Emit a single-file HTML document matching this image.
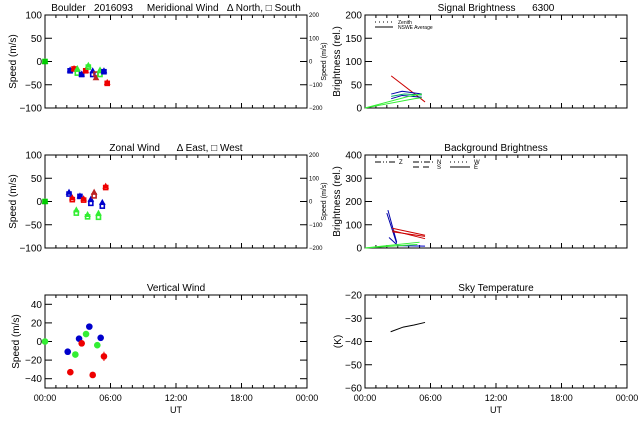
<!DOCTYPE html>
<html><head><meta charset="utf-8"><style>
body{margin:0;background:#fff;}
svg text{font-family:"Liberation Sans",sans-serif;fill:#000;white-space:pre;}
</style></head><body>
<svg id="c" width="640" height="420" xmlns="http://www.w3.org/2000/svg" xml:space="preserve"></svg>
<script>
// ---- data ----
const merTimes=[0,2.3,2.66,2.96,3.36,3.73,3.97,4.37,4.67,5.04,5.4,5.7];
const merN=[0,-18,-15,-15,-27,-19,-8,-20,-35,-18,-20,-45];
const merS=[0,-20,-16,-25,-28,-20,-12,-28,-27,-28,-22,-47];
const merColors=['#0c0','#00c','#e00','#3e3','#00c','#e00','#3e3','#00c','#b22','#3e3','#00c','#e00'];
const zonTimes=[0,2.2,2.5,2.87,3.2,3.54,3.9,4.2,4.5,4.9,5.25,5.56];
const zonE=[0,20,8,-18,12,6,-28,5,20,-25,-2,33];
const zonW=[0,16,4,-25,11,3,-33,-4,12,-34,-10,30];
const zonColors=merColors;
const vzTimes=[0,2.08,2.32,2.78,3.12,3.36,3.76,4.06,4.37,4.79,5.1,5.4];
const vzVals=[0,-11,-33,-14,3,-2,8,16,-36,-4,4,-16];
const vzErr=[0,3,1,2,1,1,1,1,3,1,1,5];
const vzColors=['#3e3','#00c','#e00','#3e3','#00c','#e00','#3e3','#00c','#e00','#3e3','#00c','#e00'];
const sigT=[[2.4,5.5],[2.4,3.4,5.2],[2.4,3.4,5.2],[2.4,3.6,5.2],[0,4.0,5.2],[0,4.5,5.2]];
const sigV=[[69,13],[30,36,30],[20,27,23],[25,30,28],[0,25,30],[0,20,22]];
const sigC=['#c00','#00a','#00a','#0a6','#3e3','#3e3'];
const bgT=[[2.1,2.9],[2.0,2.9],[2.2,2.9],[2.9,5.5],[2.5,5.5],[2.5,5.5],[2.5,5.5],[0,5.0],[0,4.8]];
const bgV=[[163,26],[150,20],[45,15],[10,8],[85,55],[75,40],[70,50],[0,25],[0,15]];
const bgC=['#00a','#00a','#00a','#00c','#c00','#c00','#c00','#3e3','#3e3'];
const skyT=[2.35,3.5,4.5,5.5];
const skyV=[-35.8,-33.8,-32.9,-31.8];
const xTicks=['00:00','06:00','12:00','18:00','00:00'];
const mwTicks=[100,50,0,-50,-100];
const rTicks=[200,100,0,-100,-200];
const vzTicksL=[40,20,0,-20,-40];
const sigTicks=[200,150,100,50,0];
const bgTicks=[400,300,200,100,0];
const skyTicks=[-20,-30,-40,-50,-60];

const svg=document.getElementById('c');
const NS='http://www.w3.org/2000/svg';
function mk(tag,attrs,name,parent){const e=document.createElementNS(NS,tag);for(const k in attrs)e.setAttribute(k,attrs[k]);


(parent||svg).appendChild(e);return e;}
function txt(x,y,s,size,name,anchor,rot){const t=mk('text',{x:x,y:y,'font-size':size,'text-anchor':anchor||'middle'},name);t.textContent=s;if(rot)t.setAttribute('transform','rotate(-90 '+x+' '+y+')');return t;}

function panel(x0,y0,x1,y1,ymin,ymax,yticks,opts){
 const g=mk('g',{},opts.name);
 mk('rect',{x:x0,y:y0,width:x1-x0,height:y1-y0,fill:'none',stroke:'#000','stroke-width':1},'plot-frame',g);
 const X=t=>x0+(t/24)*(x1-x0), Y=v=>y1-(v-ymin)/(ymax-ymin)*(y1-y0);
 for(let h=0;h<=24;h++){const L=h%6==0?5:3;
  mk('line',{x1:X(h),y1:y1,x2:X(h),y2:y1-L,stroke:'#000'},'x-tick',g);
  mk('line',{x1:X(h),y1:y0,x2:X(h),y2:y0+L,stroke:'#000'},'x-tick',g);}
 yticks.forEach(v=>{mk('line',{x1:x0,y1:Y(v),x2:x0+7,y2:Y(v),stroke:'#000'},'y-tick',g);
  mk('line',{x1:x1,y1:Y(v),x2:x1-7,y2:Y(v),stroke:'#000'},'y-tick',g);
  txt(x0-3,Y(v)+3.5,String(v).replace('-','\u2212'),10,'y-tick-label','end');});
 if(opts.xlabels){xTicks.forEach((s,i)=>txt(X(i*6),y1+13,s,9,'x-tick-label'));txt((x0+x1)/2,y1+25,'UT',9,'x-axis-title');}
 if(opts.right){rTicks.forEach((s,i)=>txt(x1+2,Y(ymax-i*(ymax-ymin)/4)+2,String(s).replace('-','\u2212'),6,'right-tick-label','start'));
  txt(x1+19,(y0+y1)/2,'Speed (m/s)',7,'right-axis-title','middle',true);}
 txt(opts.ylx,(y0+y1)/2,opts.ylabel,10,'y-axis-title','middle',true);
 txt((x0+x1)/2,y0-4,opts.title,10,'panel-title');
 return {X,Y,g};
}
function marker(p,t,v,c,shape){const x=p.X(t),y=p.Y(v);
 if(shape=='tri')mk('path',{d:`M${x-2.5},${y+2}L${x},${y-2.5}L${x+2.5},${y+2}Z`,fill:c,stroke:c},'north-marker',p.g);
 else mk('rect',{x:x-2,y:y-2,width:4,height:4,fill:'none',stroke:c,'stroke-width':1.6},'south-marker',p.g);}
function lines(p,T,V,C,nm){T.forEach((ts,i)=>mk('polyline',{points:ts.map((t,j)=>p.X(t)+','+p.Y(V[i][j])).join(' '),fill:'none',stroke:C[i],'stroke-width':1},nm,p.g));}

// Meridional
let p=panel(45,15,307,108,-100,100,mwTicks,{name:'meridional-panel',right:true,ylx:16,ylabel:'Speed (m/s)',title:'Boulder   2016093     Meridional Wind   \u0394 North, \u25A1 South'});
merTimes.forEach((t,i)=>{marker(p,t,merN[i],merColors[i],'tri');marker(p,t,merS[i],merColors[i],'sq');});
// Zonal
p=panel(45,155,307,248,-100,100,mwTicks,{name:'zonal-panel',right:true,ylx:16,ylabel:'Speed (m/s)',title:'Zonal Wind      \u0394 East, \u25A1 West'});
zonTimes.forEach((t,i)=>{marker(p,t,zonE[i],zonColors[i],'tri');marker(p,t,zonW[i],zonColors[i],'sq');});
// Vertical
p=panel(45,295,307,388,-50,50,vzTicksL,{name:'vertical-panel',xlabels:true,ylx:19,ylabel:'Speed (m/s)',title:'Vertical Wind'});
vzTimes.forEach((t,i)=>{const c=vzColors[i];
 mk('line',{x1:p.X(t),y1:p.Y(vzVals[i]-vzErr[i]),x2:p.X(t),y2:p.Y(vzVals[i]+vzErr[i]),stroke:c},'error-bar',p.g);
 mk('circle',{cx:p.X(t),cy:p.Y(vzVals[i]),r:3.3,fill:c},'vertical-point',p.g);});
// Signal
p=panel(365,15,627,108,0,200,sigTicks,{name:'signal-panel',ylx:340,ylabel:'Brightness (rel.)',title:'Signal Brightness      6300'});
lines(p,sigT,sigV,sigC,'signal-line');
mk('line',{x1:375,y1:22,x2:393,y2:22,stroke:'#000','stroke-dasharray':'1,3'},'legend-zenith-line');
txt(398,24,'Zenith',5,'legend-zenith','start');
mk('line',{x1:375,y1:27,x2:393,y2:27,stroke:'#000'},'legend-nsew-line');
txt(398,29,'NSWE Average',5,'legend-nsew','start');
// Background
p=panel(365,155,627,248,0,400,bgTicks,{name:'background-panel',ylx:340,ylabel:'Brightness (rel.)',title:'Background Brightness'});
lines(p,bgT,bgV,bgC,'background-line');
[[375,162,'6,2,1,2,1,2','Z'],[413,162,'6,2,1,2','N'],[413,167,'6,4','S'],[450,162,'1,3','W'],[450,167,'','E']].forEach(a=>{
 mk('line',{x1:a[0],y1:a[1],x2:a[0]+20,y2:a[1],stroke:'#000','stroke-dasharray':a[2]||'none'},'legend-line');
 txt(a[0]+24,a[1]+2,a[3],6,'legend-label','start');});
// Sky
p=panel(365,295,627,388,-60,-20,skyTicks,{name:'sky-temp-panel',xlabels:true,ylx:341,ylabel:'(K)',title:'Sky Temperature'});
mk('polyline',{points:skyT.map((t,i)=>p.X(t)+','+p.Y(skyV[i])).join(' '),fill:'none',stroke:'#000'},'sky-temp-line',p.g);
</script>
</body></html>
